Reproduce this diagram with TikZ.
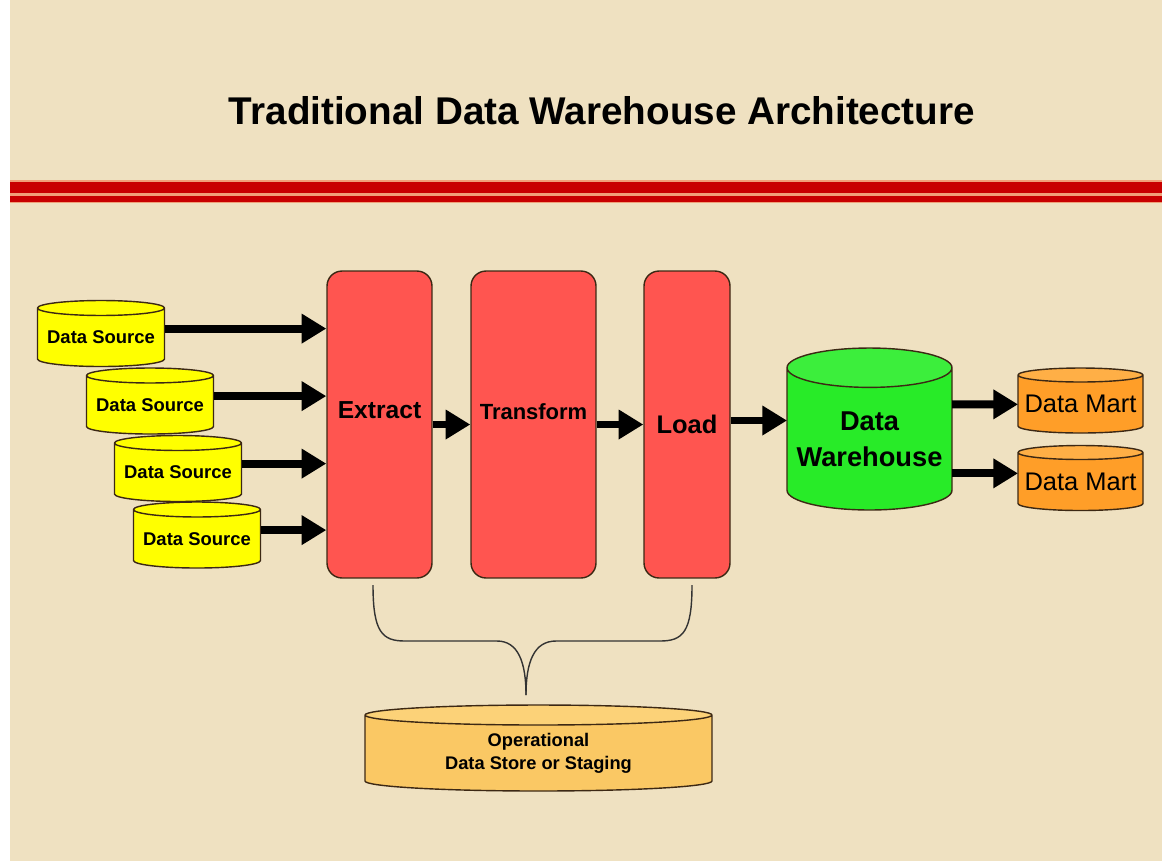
\documentclass[tikz,border=0pt]{standalone}
\usepackage{fontspec}
\setmainfont{Liberation Sans}
\usetikzlibrary{arrows.meta,positioning,shapes.geometric,calc}

\definecolor{parchment}{RGB}{239,225,193}
\definecolor{rulered}{RGB}{200,0,0}
\definecolor{rulepale}{RGB}{240,160,120}
\definecolor{srcyellow}{RGB}{255,255,0}
\definecolor{stagered}{RGB}{255,85,80}
\definecolor{whgreen}{RGB}{40,235,40}
\definecolor{whgreentop}{RGB}{60,238,60}
\definecolor{martorange}{RGB}{255,158,40}
\definecolor{martorangetop}{RGB}{255,175,70}
\definecolor{odsfill}{RGB}{250,200,100}
\definecolor{odstop}{RGB}{252,210,120}
\definecolor{edge}{RGB}{60,40,20}

\tikzset{
  drum/.style={cylinder, shape border rotate=90, draw=edge, line width=0.8pt,
    cylinder uses custom fill, inner sep=0pt, outer sep=0pt, align=center,
    anchor=shape center},
  source/.style={drum, cylinder body fill=srcyellow, cylinder end fill=srcyellow,
    minimum width=2.54cm, minimum height=1.32cm, aspect=0.139,
    font=\bfseries\fontsize{10.5}{12}\selectfont},
  mart/.style={drum, cylinder body fill=martorange, cylinder end fill=martorangetop,
    minimum width=2.5cm, minimum height=1.3cm, aspect=0.125,
    font=\fontsize{14.5}{17}\selectfont},
  stage/.style={rectangle, draw=edge, fill=stagered, rounded corners=0.3cm,
    line width=0.8pt, minimum height=6.14cm, inner sep=0pt,
    font=\bfseries\fontsize{14}{17}\selectfont},
  flow/.style={-{Triangle[length=14pt,width=16pt]}, line width=4.5pt}
}

\begin{document}
\begin{tikzpicture}[x=0.02cm, y=-0.02cm]

  % page and parchment
  \fill[white] (0,0) rectangle (1168,863);
  \fill[parchment] (10,0) rectangle (1162,861);

  % heading and double rule
  \node[font=\bfseries\fontsize{22}{26}\selectfont] (title) at (602,111)
    {Traditional Data Warehouse Architecture};
  \fill[rulepale] (10,180) rectangle (1162,203);
  \fill[rulered] (10,181.5) rectangle (1162,192.5);
  \fill[rulered] (10,195.5) rectangle (1162,201.5);

  % sources
  \node[source] (ds1) at (101,333.5) {Data Source};
  \node[source] (ds2) at (150,401) {Data Source};
  \node[source] (ds3) at (178,468.5) {Data Source};
  \node[source] (ds4) at (197,535) {Data Source};

  % ETL steps
  \node[stage, minimum width=2.1cm] (extract) at (379.5,424.5) {\raisebox{0.58cm}{Extract}};
  \node[stage, minimum width=2.5cm, font=\bfseries\fontsize{12.5}{15}\selectfont]
    (transform) at (533.5,424.5) {\raisebox{0.5cm}{Transform}};
  \node[stage, minimum width=1.72cm, font=\bfseries\fontsize{14.5}{17}\selectfont]
    (load) at (687,424.5) {Load};

  % warehouse and marts
  \node[drum, cylinder body fill=whgreen, cylinder end fill=whgreentop,
    minimum width=3.3cm, minimum height=3.24cm, aspect=0.27,
    font=\bfseries\fontsize{15.5}{20}\selectfont] (dw) at (869.5,429) {Data\\Warehouse};
  \node[mart] (dm1) at (1080.5,400.5) {Data Mart};
  \node[mart] (dm2) at (1080.5,478) {Data Mart};

  % staging store
  \node[drum, cylinder body fill=odsfill, cylinder end fill=odstop,
    minimum width=6.94cm, minimum height=1.72cm, aspect=0.107,
    font=\bfseries\fontsize{10.4}{13}\selectfont] (ods) at (538.5,748)
    {Operational\\Data Store or Staging};

  % Draw arrows
  \foreach \s in {ds1,ds2,ds3,ds4}
    \draw[flow] ([yshift=0.18cm]\s.east) -- ([yshift=0.18cm]\s.east -| extract.west);
  \draw[flow] (extract) -- (transform);
  \draw[flow] (transform) -- (load);
  \draw[flow] ([yshift=0.08cm]load.east) -- ([yshift=0.08cm]load.east -| dw.west);
  \draw[flow] (dw.east |- dm1) -- (dm1);
  \draw[flow] ([yshift=0.17cm]dw.east |- dm2) -- ([yshift=0.17cm]dm2.west |- dm2);

  % brace down to the staging store
  \coordinate (tip) at (526,695);
  \draw[line width=0.8pt, black!80] (373,585) .. controls (373,632) and (382,641) .. (405,641)
    -- (497,641) .. controls (518,641) and (526,662) .. (tip);
  \draw[line width=0.8pt, black!80] (692,585) .. controls (692,632) and (683,641) .. (660,641)
    -- (556,641) .. controls (534,641) and (526,662) .. (tip);

\end{tikzpicture}
\end{document}
